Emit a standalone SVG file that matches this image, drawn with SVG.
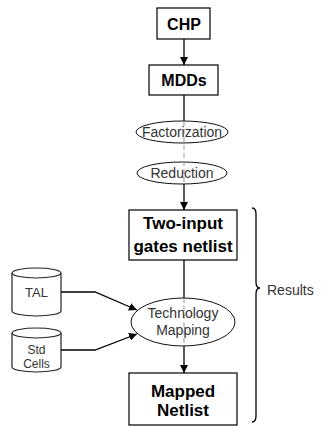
<svg xmlns="http://www.w3.org/2000/svg" width="321" height="426" viewBox="0 0 321 426">
<defs>
<style>
.box{fill:#fff;stroke:#000;stroke-width:1.2}
.ell{fill:#fff;stroke:#111;stroke-width:1}
.cyl{fill:#fff;stroke:#222;stroke-width:1.2}
.bt{font-family:"Liberation Sans",Arial,sans-serif;font-weight:bold;font-size:16px;fill:#000;text-anchor:middle}
.bt17{font-size:17px}
.et{font-family:"Liberation Sans",Arial,sans-serif;font-size:14px;fill:#333;text-anchor:middle}
.ct{font-family:"Liberation Sans",Arial,sans-serif;font-size:13px;fill:#333;text-anchor:middle}
.ct12{font-size:12px}
.st{text-anchor:start}
.ln{fill:none;stroke:#000;stroke-width:1.3}
.dash{fill:none;stroke:#999;stroke-width:1;stroke-dasharray:5,3}
</style>
<marker id="ah" viewBox="0 0 10 10" refX="10" refY="5" markerWidth="8" markerHeight="8" markerUnits="userSpaceOnUse" orient="auto">
<path d="M0,0 L10,5 L0,10 z" fill="#000"/>
</marker>
</defs>
<rect width="321" height="426" fill="#fff"/>
<g id="connectors">
<line class="ln" x1="184" y1="39" x2="184" y2="65" marker-end="url(#ah)"/>
<line class="ln" x1="184" y1="95" x2="184" y2="122"/>
<line class="ln" x1="184" y1="183" x2="184" y2="210" marker-end="url(#ah)"/>
<line class="ln" x1="184" y1="260" x2="184" y2="298"/>
<line class="ln" x1="184" y1="346" x2="184" y2="373" marker-end="url(#ah)"/>
<polyline class="ln" points="61,292 95,292 137,310" marker-end="url(#ah)"/>
<polyline class="ln" points="61,350 95,350 137,334" marker-end="url(#ah)"/>
</g>
<g id="chp">
<rect class="box" x="157" y="8" width="53" height="31"/>
<text class="bt" x="184" y="30">CHP</text>
</g>
<g id="mdds">
<rect class="box" x="149" y="65" width="69" height="30"/>
<text class="bt" x="184" y="86">MDDs</text>
</g>
<g id="factorization">
<ellipse class="ell" cx="182" cy="132" rx="46" ry="11"/>
</g>
<g id="reduction">
<ellipse class="ell" cx="182" cy="173" rx="45" ry="11"/>
</g>
<g id="twoinput">
<rect class="box" x="129" y="210" width="108" height="50"/>
<text class="bt bt17" x="183" y="229">Two-input</text>
<text class="bt bt17" x="183" y="252">gates netlist</text>
</g>
<g id="techmap">
<ellipse class="ell" cx="183" cy="322" rx="52" ry="24"/>
</g>
<line class="dash" x1="184" y1="121" x2="184" y2="184"/>
<line class="dash" x1="184" y1="298" x2="184" y2="346"/>
<g id="factorization-label"><text class="et" x="182" y="137">Factorization</text></g>
<g id="reduction-label"><text class="et" x="182" y="178">Reduction</text></g>
<g id="techmap-label">
<text class="et" x="183" y="318">Technology</text>
<text class="et" x="183" y="335">Mapping</text>
</g>
<g id="tal">
<path class="cyl" d="M12,273 A24.5,5 0 0 1 61,273 V311 A24.5,5 0 0 1 12,311 Z"/>
<path class="cyl" fill="none" d="M12,273 A24.5,5 0 0 0 61,273"/>
<text class="ct" x="36.5" y="297">TAL</text>
</g>
<g id="stdcells">
<path class="cyl" d="M12,333 A24.5,5 0 0 1 61,333 V367 A24.5,5 0 0 1 12,367 Z"/>
<path class="cyl" fill="none" d="M12,333 A24.5,5 0 0 0 61,333"/>
<text class="ct ct12" x="36.5" y="354">Std</text>
<text class="ct ct12" x="36.5" y="368">Cells</text>
</g>
<g id="mapped">
<rect class="box" x="129" y="373" width="108" height="52"/>
<text class="bt bt17" x="183" y="397">Mapped</text>
<text class="bt bt17" x="183" y="416">Netlist</text>
</g>
<g id="results">
<path class="ln" stroke-width="1.2" d="M252,208 Q256,208 256,214 L256,282 Q256,288 260,288 Q256,288 256,294 L256,416 Q256,422 252,422"/>
<text class="et st" x="267" y="295">Results</text>
</g>
</svg>
